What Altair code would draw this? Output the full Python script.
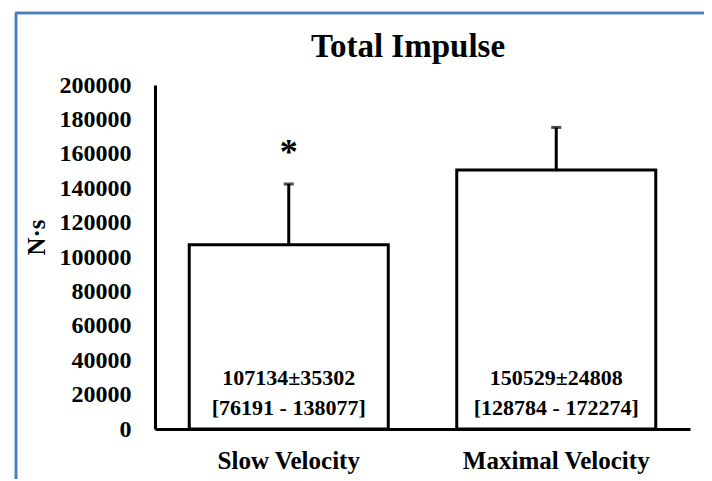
import altair as alt
import pandas as pd

categories = ["Slow Velocity", "Maximal Velocity"]
means = [107134, 150529]
sds = [35302, 24808]
line1 = ["107134±35302", "150529±24808"]
line2 = ["[76191 - 138077]", "[128784 - 172274]"]
stars = ["*", ""]
y_ticks = [0, 20000, 40000, 60000, 80000, 100000, 120000, 140000, 160000, 180000, 200000]
chart_title = "Total Impulse"

df = pd.DataFrame({
    "cat": categories,
    "mean": means,
    "sd": sds,
    "upper": [m + s for m, s in zip(means, sds)],
    "l1": line1,
    "l2": line2,
    "star": stars,
    "zero": [0, 0],
})

FONT = "Liberation Serif"

x = alt.X("cat:N", sort=categories, title=None,
          scale=alt.Scale(paddingInner=0.256, paddingOuter=0.128),
          axis=alt.Axis(labelAngle=0, labelFontSize=25, labelFont=FONT, labelFontWeight="bold",
                        labelColor="black", labelPadding=19, ticks=False, labelLimit=400,
                        domainColor="black", domainWidth=3))
xn = alt.X("cat:N", sort=categories)
yscale = alt.Scale(domain=[0, 200000], nice=False)

base = alt.Chart(df)

bars = base.mark_bar(fill="white", stroke="black", strokeWidth=3).encode(
    x=x,
    y=alt.Y("mean:Q", scale=yscale, title="N·s",
            axis=alt.Axis(values=y_ticks, format="d", grid=False, ticks=False,
                          labelOverlap=False, tickCount=11,
                          labelFontSize=24, labelFont=FONT, labelFontWeight="bold",
                          labelColor="black", labelPadding=24,
                          domainColor="black", domainWidth=3,
                          titleFont=FONT, titleFontSize=25, titleFontWeight="bold",
                          titleColor="black", titleX=-119, titleY=152,
                          titleBaseline="middle")),
)

def yq(field):
    return alt.Y(field, scale=yscale)

err = base.mark_rule(color="black", strokeWidth=3).encode(
    x=xn, y=yq("mean:Q"), y2="upper:Q")
cap = base.mark_tick(color="black", thickness=3, size=10, orient="horizontal").encode(
    x=xn, y=yq("upper:Q"))

t1 = base.mark_text(font=FONT, fontWeight="bold", fontSize=22, color="black",
                    baseline="middle", dy=-51).encode(
    x=xn, y=yq("zero:Q"), text="l1:N")
t2 = base.mark_text(font=FONT, fontWeight="bold", fontSize=22, color="black",
                    baseline="middle", dy=-21).encode(
    x=xn, y=yq("zero:Q"), text="l2:N")
star = base.mark_text(font=FONT, fontWeight="bold", fontSize=36, color="black",
                      baseline="middle", dy=-31).encode(
    x=xn, y=yq("upper:Q"), text="star:N")

title_df = pd.DataFrame({"t": [chart_title]})
title_mark = alt.Chart(title_df).mark_text(
    font=FONT, fontWeight="bold", fontSize=33, color="black",
    baseline="alphabetic", align="center").encode(
    x=alt.value(253), y=alt.value(-28), text="t:N")

frame_left = alt.Chart(df).mark_rule(color="#4a7ebb", strokeWidth=2.5, clip=False).encode(
    x=alt.value(-139), y=alt.value(-72), y2=alt.value(420))
frame_top = alt.Chart(df).mark_rule(color="#4a7ebb", strokeWidth=2.5, clip=False).encode(
    x=alt.value(-140), x2=alt.value(560), y=alt.value(-72))

chart = alt.layer(frame_left, frame_top, bars, err, cap, t1, t2, star, title_mark).properties(
    width=535, height=344,
    background="white",
    autosize=alt.AutoSizeParams(type="none"),
    padding={"left": 147, "top": 77, "right": 14, "bottom": 50},
).configure_view(stroke=None).configure_axisY(labelOverlap=False, tickCount=11)

chart.save("out.html", embed_options={"renderer": "svg", "actions": False})
